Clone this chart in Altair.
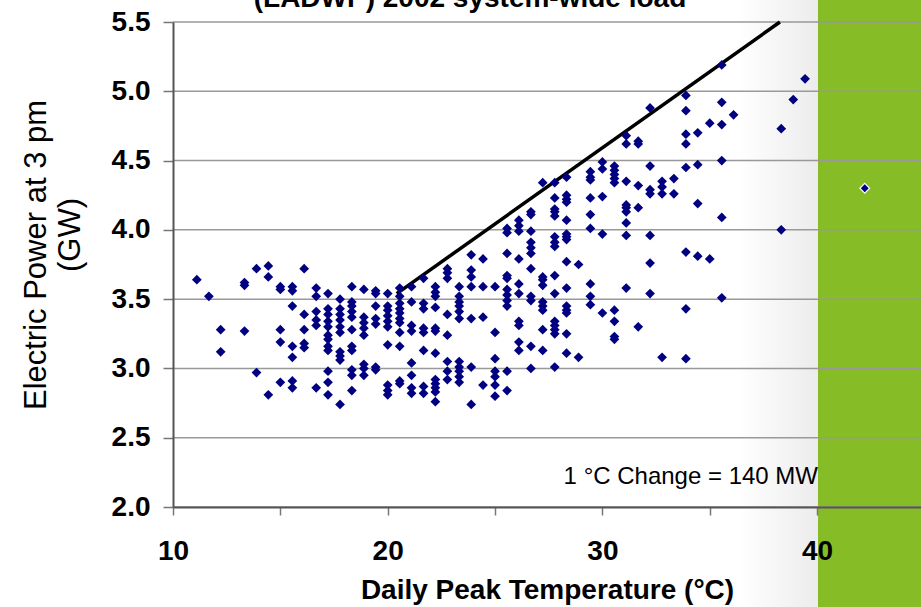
import altair as alt
import pandas as pd

# Daily peak temperature (deg C, whole-degree-F readings) and the 3 pm system load (GW)
temp_c = [11.11, 11.67, 12.22, 13.33, 13.89, 14.44, 15.00, 15.56, 16.11, 16.67,
          17.22, 17.78, 18.33, 18.89, 19.44, 20.00, 20.56, 21.11, 21.67, 22.22,
          22.78, 23.33, 23.89, 24.44, 25.00, 25.56, 26.11, 26.67, 27.22, 27.78,
          28.33, 28.89, 29.44, 30.00, 30.56, 31.11, 31.67, 32.22, 32.78, 33.33,
          33.89, 34.44, 35.00, 35.56, 36.11, 38.33, 38.89, 39.44, 42.22]

power_gw = [
    [3.64],
    [3.52],
    [3.28, 3.12],
    [3.62, 3.60, 3.27],
    [3.72, 2.97],
    [3.74, 3.66, 2.81],
    [3.59, 3.57, 3.28, 3.19, 2.90],
    [3.59, 3.56, 3.45, 3.16, 3.08, 2.91, 2.86],
    [3.72, 3.39, 3.28, 3.18, 3.15],
    [3.58, 3.52, 3.41, 3.35, 3.31, 2.86],
    [3.54, 3.43, 3.39, 3.34, 3.30, 3.24, 3.21, 3.16, 3.13, 2.98, 2.90, 2.81],
    [3.50, 3.43, 3.39, 3.35, 3.30, 3.26, 3.12, 3.09, 3.06, 2.74],
    [3.59, 3.48, 3.45, 3.41, 3.37, 3.28, 3.16, 3.13, 2.99, 2.95, 2.84],
    [3.57, 3.37, 3.33, 3.29, 3.24, 3.03, 3.00, 2.95],
    [3.56, 3.54, 3.45, 3.36, 3.32, 3.01, 2.99],
    [3.54, 3.45, 3.42, 3.38, 3.34, 3.30, 3.17, 2.88, 2.84, 2.81],
    [3.58, 3.52, 3.47, 3.43, 3.40, 3.36, 3.33, 3.26, 3.16, 2.91, 2.89],
    [3.59, 3.48, 3.31, 3.27, 3.04, 2.95, 2.86, 2.82],
    [3.65, 3.47, 3.43, 3.29, 3.26, 3.13, 2.87, 2.82],
    [3.59, 3.55, 3.52, 3.44, 3.29, 3.27, 3.11, 2.92, 2.89, 2.86, 2.83, 2.76],
    [3.72, 3.69, 3.65, 3.39, 3.24, 3.05, 2.98, 2.92],
    [3.59, 3.52, 3.48, 3.45, 3.41, 3.36, 3.05, 3.01, 2.98, 2.94, 2.90],
    [3.82, 3.71, 3.66, 3.59, 3.36, 3.01, 2.74],
    [3.79, 3.59, 3.37, 2.88],
    [3.59, 3.26, 3.07, 2.98, 2.94, 2.88, 2.80],
    [4.01, 3.98, 3.83, 3.67, 3.65, 3.57, 3.53, 3.49, 3.45, 2.98, 2.84],
    [4.07, 4.03, 3.99, 3.79, 3.61, 3.54, 3.34, 3.31, 3.19, 3.13],
    [4.13, 4.11, 3.99, 3.91, 3.87, 3.83, 3.72, 3.52, 3.49, 3.16, 3.00],
    [4.34, 3.66, 3.64, 3.60, 3.48, 3.45, 3.42, 3.28, 3.13],
    [4.34, 4.23, 4.15, 4.13, 4.10, 3.95, 3.91, 3.88, 3.67, 3.54, 3.34, 3.31, 3.28, 3.25, 3.01],
    [4.38, 4.25, 4.22, 4.20, 4.07, 3.97, 3.95, 3.93, 3.77, 3.58, 3.45, 3.42, 3.40, 3.25, 3.11],
    [3.75, 3.08],
    [4.42, 4.38, 4.36, 4.23, 4.11, 4.01, 3.61, 3.52, 3.46],
    [4.49, 4.44, 4.24, 3.97, 3.40],
    [4.46, 4.43, 4.40, 4.37, 4.34, 3.42, 3.34, 3.23, 3.21],
    [4.68, 4.62, 4.35, 4.18, 4.16, 4.13, 4.05, 3.96, 3.58],
    [4.64, 4.62, 4.32, 4.16, 3.30],
    [4.88, 4.46, 4.29, 4.26, 3.96, 3.76, 3.54],
    [4.35, 4.31, 4.26, 3.08],
    [4.37, 4.26],
    [4.97, 4.86, 4.69, 4.62, 4.45, 3.84, 3.43, 3.07],
    [4.70, 4.47, 4.19, 3.81],
    [4.77, 3.79],
    [5.19, 4.92, 4.76, 4.50, 4.09, 3.51],
    [4.83],
    [4.73, 4.00],
    [4.94],
    [5.09],
    [4.30],
]

# Straight-line envelope above the warm-day loads
line_temp = [20.42, 38.27]
line_power = [3.54, 5.50]

# Horizontal reference levels (GW)
grid_power = [2.0, 2.5, 3.0, 3.5, 4.0, 4.5, 5.0, 5.5]
x_ticks = [10, 15, 20, 25, 30, 35, 40]

points = pd.DataFrame(
    [(t, p) for t, ps in zip(temp_c, power_gw) for p in ps],
    columns=["temp", "power"],
)
envelope = pd.DataFrame({"temp": line_temp, "power": line_power})
levels = pd.DataFrame({"power": grid_power})
one = pd.DataFrame({"k": [0]})

FONT = "Liberation Sans"

x_scale = alt.Scale(domain=[10, 44.84], nice=False, zero=False)
y_scale = alt.Scale(domain=[2.0, 5.5], nice=False, zero=False)

x_axis = alt.Axis(
    values=x_ticks,
    labelExpr="datum.value % 10 == 0 ? datum.label : ''",
    grid=False,
    zindex=1,
    domainColor="#555555",
    domainWidth=2,
    tickColor="#777777",
    tickWidth=1.5,
    tickSize=8,
    labelFont=FONT,
    labelFontWeight="bold",
    labelFontSize=28,
    labelColor="#000000",
    labelPadding=22,
    labelFlush=False,
    labelOverlap=False,
    title="Daily Peak Temperature (°C)",
    titleFont=FONT,
    titleFontSize=28,
    titleFontWeight="bold",
    titleColor="#000000",
    titleBaseline="alphabetic",
    titleY=91,
)
y_axis = alt.Axis(
    values=grid_power,
    format=".1f",
    grid=False,
    zindex=1,
    domainColor="#555555",
    domainWidth=2,
    tickColor="#777777",
    tickWidth=1.5,
    tickSize=10,
    labelFont=FONT,
    labelFontWeight="bold",
    labelFontSize=28,
    labelColor="#000000",
    labelPadding=13,
    title=None,
)

X = alt.X("temp:Q", scale=x_scale, axis=x_axis)
Y = alt.Y("power:Q", scale=y_scale, axis=y_axis)

# Slide backdrop: soft grey fade into the green side panel
fade = alt.Chart(one).mark_rect(
    fill=alt.Gradient(
        gradient="linear",
        stops=[alt.GradientStop(color="#ffffff", offset=0),
               alt.GradientStop(color="#ececec", offset=1)],
        x1=0, x2=1, y1=0, y2=0,
    )
).encode(x=alt.value(565), x2=alt.value(645), y=alt.value(-22), y2=alt.value(585))

panel = alt.Chart(one).mark_rect(fill="#86bc25").encode(
    x=alt.value(645), x2=alt.value(748), y=alt.value(-22), y2=alt.value(585)
)

grid = alt.Chart(levels).mark_rule(color="#999999", strokeWidth=1.5).encode(y=Y)

trend = alt.Chart(envelope).mark_line(color="#000000", strokeWidth=3.5).encode(x=X, y=Y)

dots = alt.Chart(points).mark_point(
    shape="diamond", filled=True, size=95, color="#000080", opacity=1
).encode(x=X, y=Y)

outliers = alt.Chart(points).transform_filter("datum.temp > 40").mark_point(
    shape="diamond", filled=True, size=95, fill="#000080", stroke="#ffffff",
    strokeWidth=1.2, opacity=1
).encode(x=X, y=Y)

title = alt.Chart(one).mark_text(
    text="(LADWP) 2002 system-wide load", font=FONT, fontWeight="bold",
    fontSize=28, align="center", baseline="alphabetic", color="#000000"
).encode(x=alt.value(297), y=alt.value(-15))

note = alt.Chart(one).mark_text(
    text="1 °C Change = 140 MW", font=FONT, fontSize=24,
    align="right", baseline="alphabetic", color="#000000"
).encode(x=alt.value(645), y=alt.value(462))

ytitle1 = alt.Chart(one).mark_text(
    text="Electric Power at 3 pm", font=FONT, fontSize=31, angle=270,
    align="center", baseline="middle", color="#000000"
).encode(x=alt.value(-136), y=alt.value(233))

ytitle2 = alt.Chart(one).mark_text(
    text="(GW)", font=FONT, fontSize=31, angle=270,
    align="center", baseline="middle", color="#000000"
).encode(x=alt.value(-102), y=alt.value(213))

chart = alt.layer(
    fade, panel, grid, trend, dots, outliers, title, note, ytitle1, ytitle2
).properties(
    width=748,
    height=485,
    autosize=alt.AutoSizeParams(type="none"),
    padding={"left": 173, "top": 22, "right": 0, "bottom": 100},
    background="#ffffff",
).configure_view(stroke=None)

chart.save("out.html", embed_options={"renderer": "svg", "actions": False})
